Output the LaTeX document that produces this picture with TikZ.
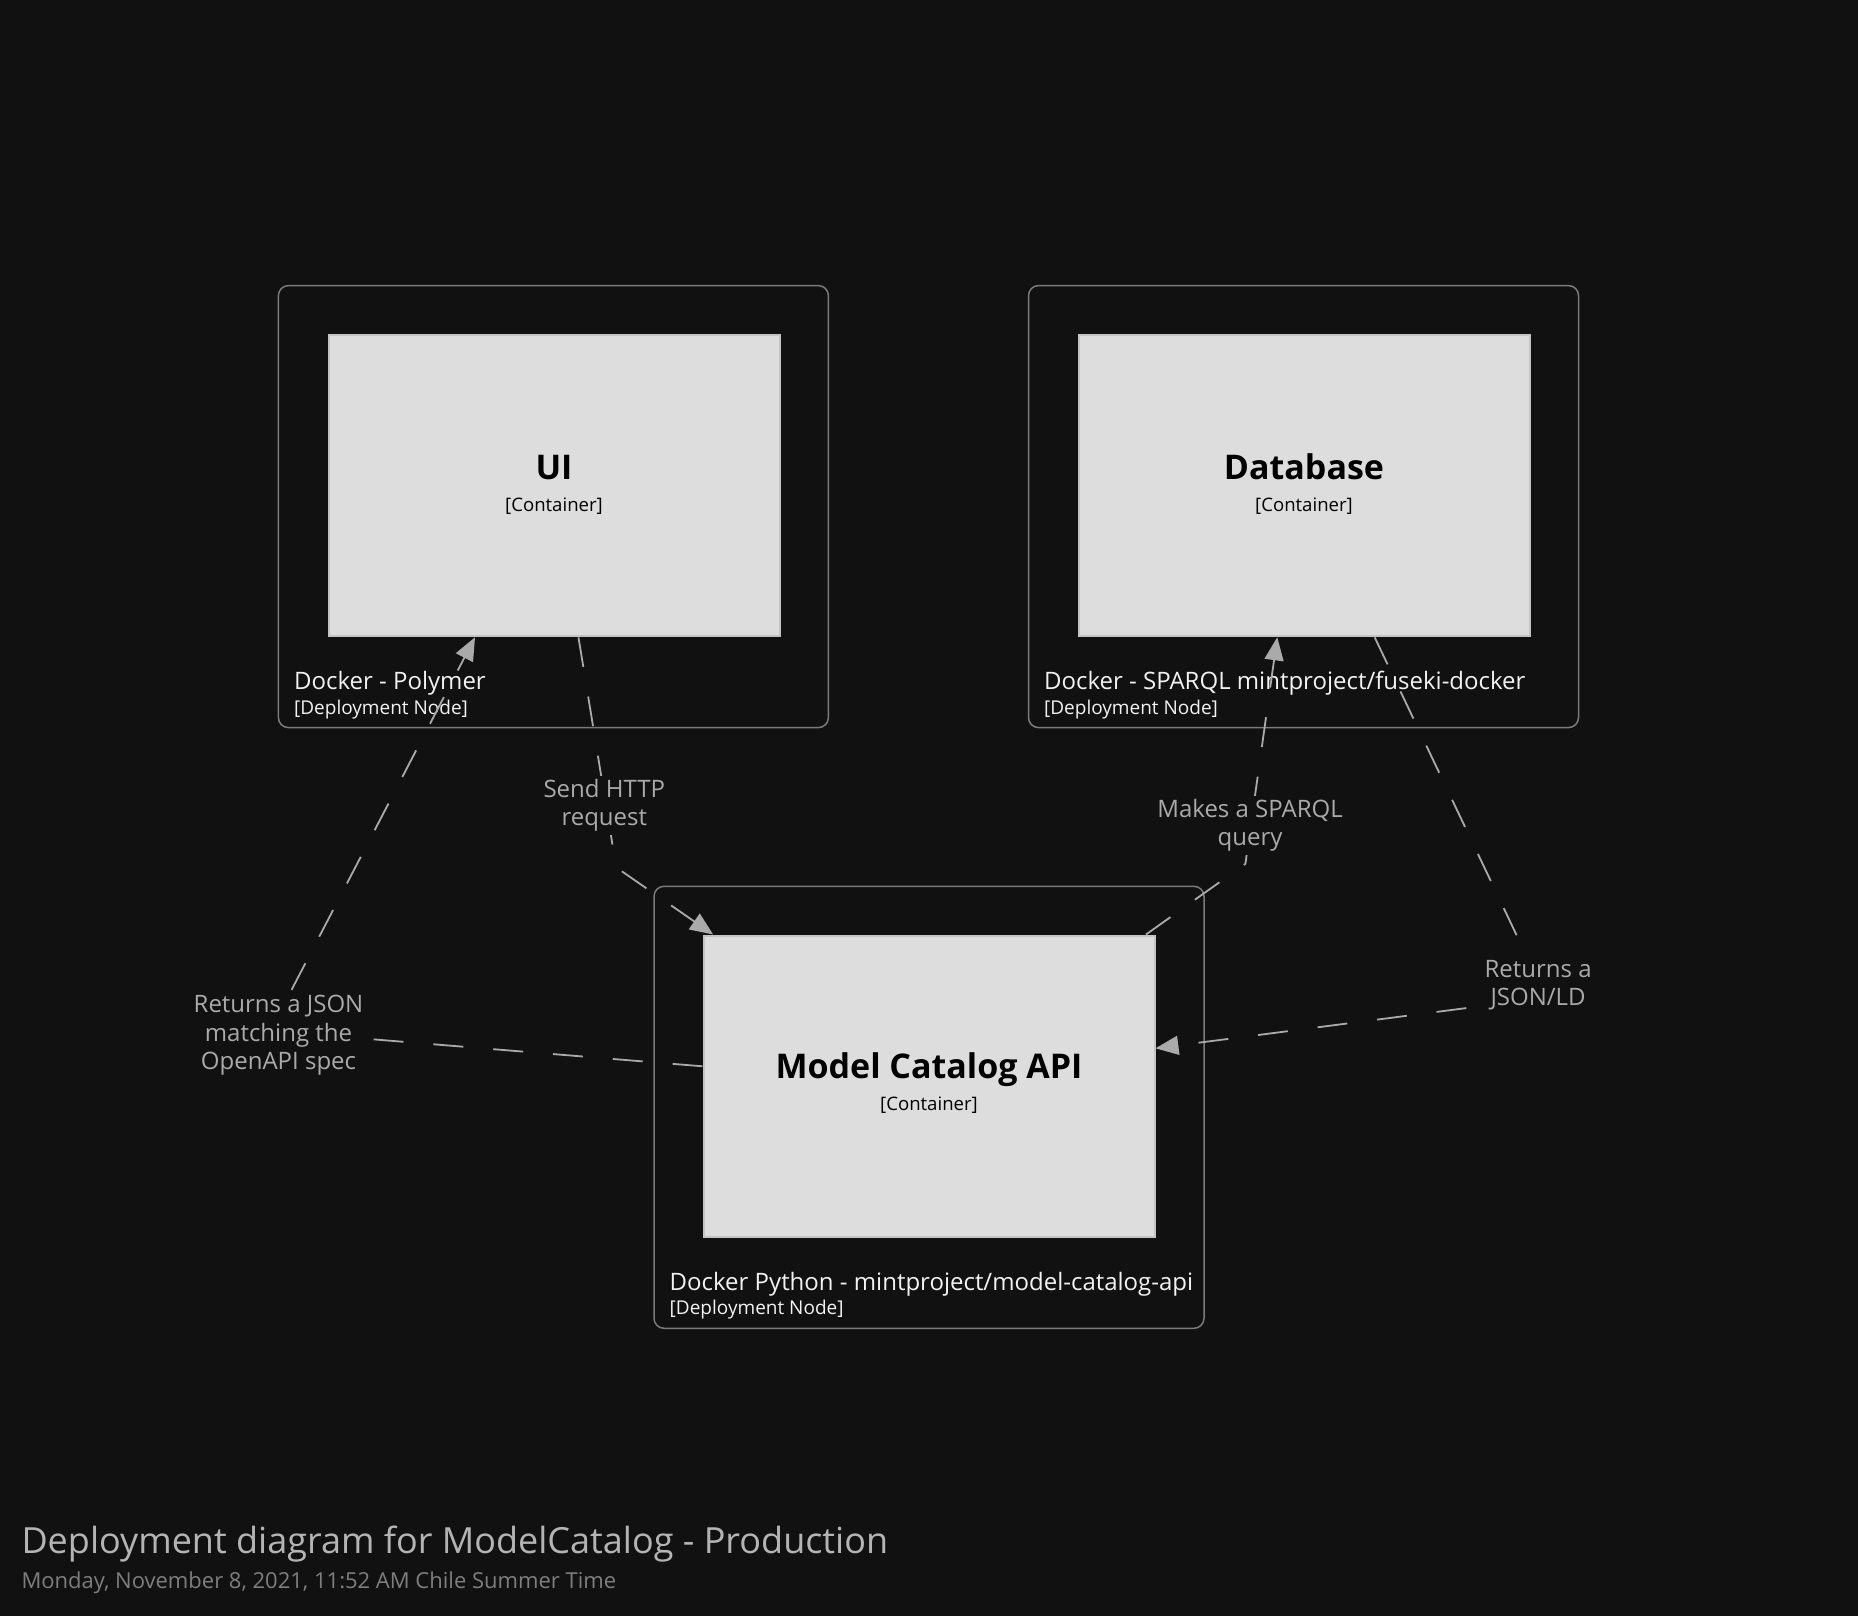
\documentclass[tikz,border=0pt]{standalone}
\usepackage{fontspec}
\setmainfont{Open Sans}
\usetikzlibrary{arrows.meta,calc}
\definecolor{bg}{HTML}{111111}
\definecolor{outerc}{HTML}{7A7A7A}
\definecolor{contfill}{HTML}{DDDDDD}
\definecolor{contborder}{HTML}{C4C4C4}
\definecolor{dtext}{HTML}{F2F2F2}
\definecolor{relc}{HTML}{AAAAAA}
\definecolor{titlec}{HTML}{B4B4B4}
\definecolor{datec}{HTML}{7E7E7E}
\begin{document}
\begin{tikzpicture}[x=1pt,y=-1pt,
  deploy/.style={draw=outerc, line width=1.5pt, rounded corners=10pt, fill=bg, minimum width=550pt, minimum height=442pt, inner sep=0pt},
  cont/.style={draw=contborder, line width=2pt, fill=contfill, minimum width=451pt, minimum height=301pt, inner sep=0pt},
  ctitle/.style={font=\fontsize{34}{40}\selectfont\bfseries, text=black, anchor=base, inner sep=0pt},
  cmeta/.style={font=\fontsize{18.6}{22}\selectfont, text=black, anchor=base, inner sep=0pt},
  dname/.style={font=\fontsize{24}{29}\selectfont, text=dtext, anchor=base west, inner sep=0pt},
  dmeta/.style={font=\fontsize{19}{23}\selectfont, text=dtext, anchor=base west, inner sep=0pt},
  rel/.style={draw=relc, line width=1.8pt, dash pattern=on 30pt off 30pt, -{Triangle[length=23pt,width=19pt]}},
  rlabel/.style={fill=bg, text=relc, align=center, font=\fontsize{24}{28.5}\selectfont, inner sep=3pt}
]
\fill[bg] (0,0) rectangle (1858,1616);
\useasboundingbox (0,0) rectangle (1858,1616);

% deployment nodes
\node[deploy] (uiDN) at (553.4,506.6) {};
\node[deploy] (dbDN) at (1303.5,506.6) {};
\node[deploy] (apiDN) at (929,1107.3) {};

% containers
\node[cont] (ui) at (554,485.8) {};
\node[cont] (db) at (1304,485.8) {};
\node[cont] (api) at (929,1086) {};

\node[ctitle] (uiT) at (554,479.3) {UI};
\node[cmeta] (uiM) at (554,511) {[Container]};
\node[ctitle] (dbT) at (1304,479.3) {Database};
\node[cmeta] (dbM) at (1304,511) {[Container]};
\node[ctitle] (apiT) at (929,1078.9) {Model Catalog API};
\node[cmeta] (apiM) at (929,1110.6) {[Container]};

\node[dname] (uiDNT) at (293.9,689.3) {Docker - Polymer};
\node[dmeta] (uiDNM) at (293.9,714.3) {[Deployment Node]};
\node[dname] (dbDNT) at (1043.9,689.3) {Docker - SPARQL mintproject/fuseki-docker};
\node[dmeta] (dbDNM) at (1043.9,714.3) {[Deployment Node]};
\node[dname] (apiDNT) at (669.5,1290) {Docker Python - mintproject/model-catalog-api};
\node[dmeta] (apiDNM) at (669.5,1314.3) {[Deployment Node]};

% relationship vertices
\coordinate (v1) at (270.2,1030.9);
\coordinate (v2) at (616.2,867.4);
\coordinate (v3) at (1245.4,863.8);
\coordinate (v4) at (1546.4,997.7);

% relationships
\draw[rel] ($(api.north west)!0.435!(api.south west)$) -- (v1) -- ($(ui.south west)!0.3256!(ui.south east)$);
\draw[rel] ($(ui.south west)!0.554!(ui.south east)$) -- (v2) -- ($(api.north west)!0.0235!(api.north east)$);
\draw[rel] ($(api.north west)!0.979!(api.north east)$) -- (v3) -- ($(db.south west)!0.441!(db.south east)$);
\draw[rel] ($(db.south west)!0.656!(db.south east)$) -- (v4) -- ($(api.north east)!0.3756!(api.south east)$);

\node[rlabel] (l1) at (278.5,1035.2) {Returns a JSON\\matching the\\OpenAPI spec};
\node[rlabel] (l2) at (604.3,805.5) {Send HTTP\\request};
\node[rlabel] (l3) at (1250.1,825.3) {Makes a SPARQL\\query};
\node[rlabel] (l4) at (1538.1,985.3) {Returns a\\JSON/LD};

% title
\node[anchor=base west, font=\fontsize{36}{43}\selectfont, text=titlec, inner sep=0pt] (title) at (21.3,1553.3) {Deployment diagram for ModelCatalog - Production};
\node[anchor=base west, font=\fontsize{22}{26}\selectfont, text=datec, inner sep=0pt] (date) at (21.3,1588.7) {Monday, November 8, 2021, 11:52 AM Chile Summer Time};
\end{tikzpicture}
\end{document}
